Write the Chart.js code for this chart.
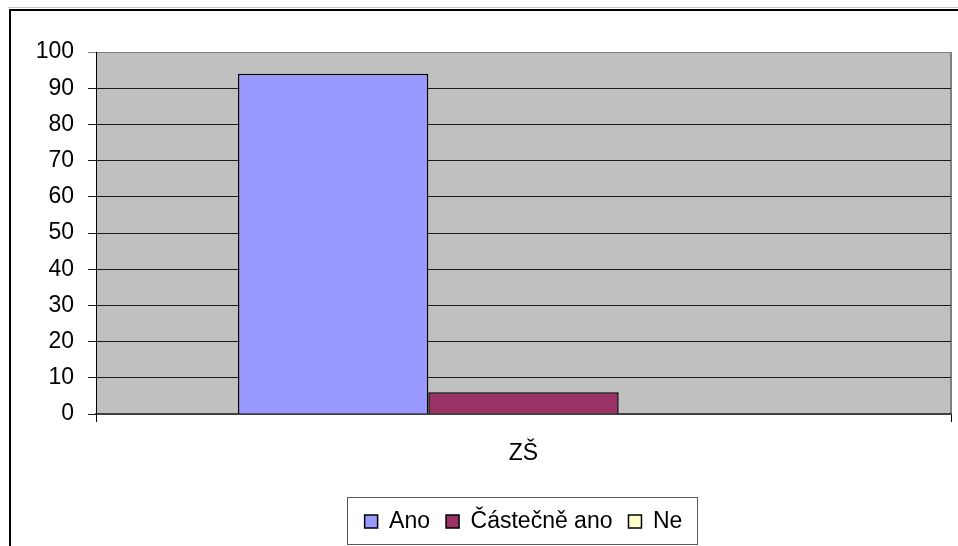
<!DOCTYPE html>
<html>
<head>
<meta charset="utf-8">
<script src="https://cdn.jsdelivr.net/npm/chart.js@4.4.1/dist/chart.umd.min.js"></script>
<style>
  html, body { margin: 0; padding: 0; background: #fff; }
  #obal { width: 958px; height: 546px; }
</style>
</head>
<body>
<div id="obal"><canvas id="graf" width="958" height="546"></canvas></div>
<script>
// data
const kategorie = ["ZŠ"];
const serie = ["Ano", "Částečně ano", "Ne"];
const hodnoty = [[94], [6], [0]];
const barvy = ["#9999FF", "#993366", "#FFFFCC"];
const osaYMin = 0;
const osaYMax = 100;
const osaYKrok = 10;

const pismo = "'Liberation Sans', Arial, sans-serif";

// pozadí, rámeček grafu a rámeček legendy
const ramecky = {
  id: "ramecky",
  beforeDraw(chart) {
    const ctx = chart.ctx;
    const a = chart.chartArea;
    ctx.save();
    ctx.fillStyle = "#ffffff";
    ctx.fillRect(0, 0, chart.width, chart.height);
    // vnější rámeček (pokračuje mimo obrázek)
    ctx.strokeStyle = "#c8c8c8";
    ctx.lineWidth = 1;
    ctx.beginPath();
    ctx.moveTo(8, 7.5);
    ctx.lineTo(chart.width, 7.5);
    ctx.stroke();
    ctx.strokeStyle = "#000";
    ctx.lineWidth = 2;
    ctx.strokeRect(10, 10, chart.width + 20, chart.height + 20);
    // šedá plocha grafu
    ctx.fillStyle = "#c0c0c0";
    ctx.fillRect(a.left, a.top, a.right - a.left, a.bottom - a.top);
    ctx.strokeStyle = "#808080";
    ctx.lineWidth = 2;
    ctx.beginPath();
    ctx.moveTo(a.right, a.top);
    ctx.lineTo(a.right, a.bottom);
    ctx.stroke();
    ctx.restore();
  },
  afterDraw(chart) {
    const lg = chart.legend;
    if (!lg || !lg.legendHitBoxes.length) return;
    const boxy = lg.legendHitBoxes;
    const l = Math.min(...boxy.map(b => b.left)) - 18;
    const r = Math.max(...boxy.map(b => b.left + b.width)) + 14;
    const ctx = chart.ctx;
    ctx.save();
    ctx.strokeStyle = "#5a5a5a";
    ctx.lineWidth = 1;
    ctx.strokeRect(Math.round(l) + 0.5, 497.5, Math.round(r - l), 47);
    ctx.restore();
  }
};

const data = {
  labels: kategorie,
  datasets: serie.map((nazev, i) => ({
    label: nazev,
    data: hodnoty[i],
    backgroundColor: barvy[i],
    borderColor: "#000",
    borderWidth: 1.5,
    barPercentage: 1,
    categoryPercentage: 0.668
  }))
};

const config = {
  type: "bar",
  data: data,
  plugins: [ramecky],
  options: {
    responsive: false,
    animation: false,
    devicePixelRatio: 1,
    layout: { padding: { top: 52, left: 0, right: 7, bottom: 3 } },
    plugins: {
      tooltip: { enabled: false },
      legend: {
        position: "bottom",
        fullSize: false,
        labels: {
          color: "#000",
          font: { family: pismo, size: 23 },
          boxWidth: 13,
          boxHeight: 13,
          padding: 16
        }
      }
    },
    scales: {
      x: {
        afterFit(s) { s.height = 80; },
        grid: { drawOnChartArea: false, drawTicks: true, tickLength: 8, color: "#000", offset: true },
        border: { display: true, color: "#404040", width: 2 },
        ticks: { color: "#000", font: { family: pismo, size: 23 }, padding: 18 }
      },
      y: {
        min: osaYMin,
        max: osaYMax,
        afterFit(s) { s.width = 96; },
        grid: {
          color: (c) => (c.tick && c.tick.value === osaYMax ? "#808080" : "#1a1a1a"),
          lineWidth: 1,
          tickLength: 8
        },
        border: { display: true, color: "#000", width: 1 },
        ticks: {
          stepSize: osaYKrok,
          color: "#000",
          font: { family: pismo, size: 23 },
          padding: 14
        }
      }
    }
  }
};

const ctx = document.getElementById("graf").getContext("2d");
new Chart(ctx, config);
</script>
</body>
</html>
